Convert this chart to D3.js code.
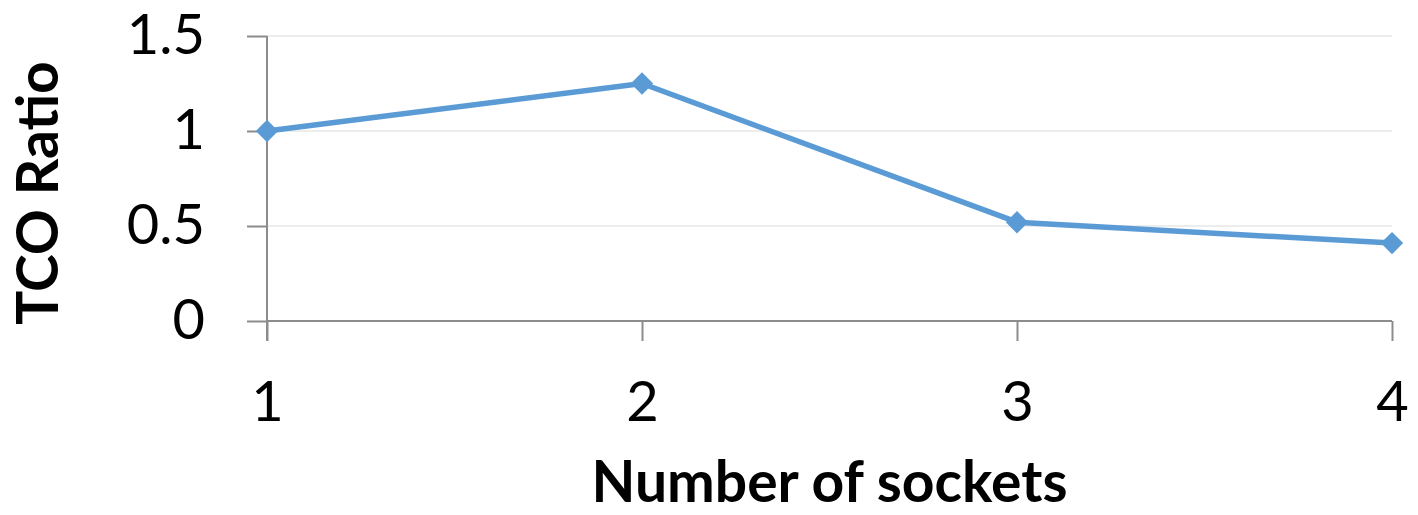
<!DOCTYPE html>
<html>
<head>
<meta charset="utf-8">
<script src="https://cdn.jsdelivr.net/npm/d3@7/dist/d3.min.js"></script>
<style>
  html, body { margin: 0; padding: 0; background: #fff; }
  svg { display: block; }
  text { font-family: Lato, "Open Sans", sans-serif; fill: #000; }
</style>
</head>
<body>
<svg id="chart" width="1418" height="515"></svg>
<script>
const categories = ["1", "2", "3", "4"];
const tcoRatio = [1.0, 1.25, 0.52, 0.41];
const yTicks = [0, 0.5, 1, 1.5];
const yTickLabels = ["0", "0.5", "1", "1.5"];
const xTitle = "Number of sockets";
const yTitle = "TCO Ratio";

const svg = d3.select("#chart");
const margin = { left: 267, right: 26, top: 36, bottom: 194 };
const W = 1418, H = 515;
const x = d3.scalePoint().domain(categories).range([margin.left, W - margin.right]);
const y = d3.scaleLinear().domain([0, 1.5]).range([H - margin.bottom, margin.top]);

const axisColor = "#8c8c8c";
const gridColor = "#ededed";
const lineColor = "#5b9bd5";

// gridlines
svg.append("g").selectAll("line").data(yTicks.filter(d => d > 0)).join("line")
  .attr("x1", x.range()[0]).attr("x2", x.range()[1])
  .attr("y1", d => y(d)).attr("y2", d => y(d))
  .attr("stroke", gridColor).attr("stroke-width", 2);

// y axis
const yAxis = d3.axisLeft(y).tickValues(yTicks).tickSize(20).tickPadding(42)
  .tickFormat((d, i) => yTickLabels[i]);
const gy = svg.append("g").attr("transform", `translate(${x.range()[0]},0)`).call(yAxis);
gy.select(".domain").remove();
gy.selectAll(".tick line").attr("stroke", axisColor).attr("stroke-width", 2);
gy.append("line").attr("x1", 0).attr("x2", 0).attr("y1", y(1.5)).attr("y2", y(0) + 20)
  .attr("stroke", axisColor).attr("stroke-width", 2);
gy.selectAll(".tick text").style("font-size", "56px").attr("fill", "#000")
  .attr("font-family", "Lato, 'Open Sans', sans-serif");

// x axis
const xAxis = d3.axisBottom(x).tickSize(20).tickPadding(40);
const gx = svg.append("g").attr("transform", `translate(0,${y(0)})`).call(xAxis);
gx.select(".domain").remove();
gx.selectAll(".tick line").attr("stroke", axisColor).attr("stroke-width", 2);
gx.append("line").attr("x1", x.range()[0]).attr("x2", x.range()[1]).attr("y1", 0).attr("y2", 0)
  .attr("stroke", axisColor).attr("stroke-width", 2);
gx.selectAll(".tick text").style("font-size", "56px").attr("fill", "#000")
  .attr("font-family", "Lato, 'Open Sans', sans-serif");

// line
const pts = categories.map((c, i) => [x(c), y(tcoRatio[i])]);
svg.append("path").attr("d", d3.line()(pts))
  .attr("fill", "none").attr("stroke", lineColor).attr("stroke-width", 5.5)
  .attr("stroke-linejoin", "round");

// markers
const sym = d3.symbol().type(d3.symbolDiamond2).size(320);
svg.append("g").selectAll("path").data(pts).join("path")
  .attr("transform", d => `translate(${d[0]},${d[1]})`)
  .attr("d", sym).attr("fill", lineColor);

// titles
svg.append("text").attr("x", (x.range()[0] + x.range()[1]) / 2).attr("y", 502)
  .attr("text-anchor", "middle").attr("font-weight", "bold").style("font-size", "57px")
  .text(xTitle);
svg.append("text").attr("transform", "translate(58,193) rotate(-90)")
  .attr("text-anchor", "middle").attr("font-weight", "bold").style("font-size", "57px")
  .text(yTitle);
</script>
</body>
</html>
